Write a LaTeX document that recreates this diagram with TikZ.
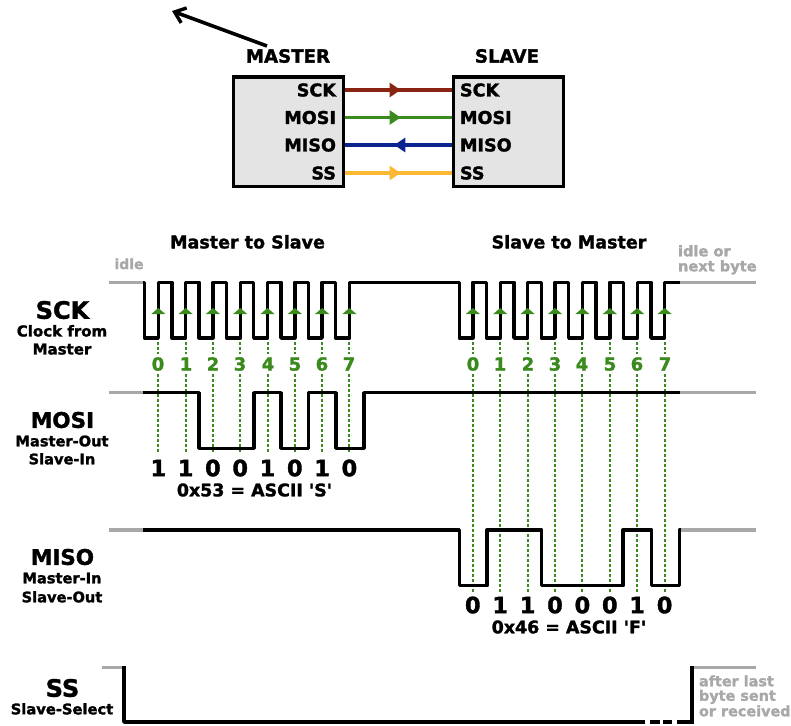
\documentclass[tikz,border=0pt]{standalone}
\usepackage{fontspec}
\newfontfamily\fatfont{DejaVu Sans Bold}[FakeBold=1.6]
\usetikzlibrary{arrows.meta,decorations.markings}
\definecolor{sgreen}{HTML}{3A8A1E}
\definecolor{sred}{HTML}{8A2412}
\definecolor{sblue}{HTML}{0C2490}
\definecolor{syellow}{HTML}{FDB933}
\definecolor{sgray}{HTML}{A8A8A8}
\definecolor{sbox}{HTML}{E4E4E4}
\tikzset{
  txt/.style={inner sep=0pt,outer sep=0pt,text height=.729*#1 pt,text depth=0pt,
    font=\fontsize{#1}{#1}\selectfont\fatfont},
  chip/.style={draw=black,fill=sbox,line width=3.6pt,inner sep=0pt,minimum width=110pt,minimum height=109.5pt},
  sig/.style={draw=black,line width=3.4pt,line join=round},
  idleline/.style={draw=sgray,line width=3.4pt},
  dots/.style={draw=sgreen,line width=2pt,dash pattern=on 3pt off 2pt},
  wire/.style={line width=3.4pt,postaction={decorate},decoration={markings,
    mark=at position #1 with {\arrow{Triangle[length=11pt,width=14pt]}}}},
}
\begin{document}
\begin{tikzpicture}[x=1pt,y=-1pt]
\useasboundingbox (0,0) rectangle (791,725);

% top arrow
\coordinate (arrowfrom) at (267,46);
\coordinate (arrowto) at (172,11);
\draw[line width=3.6pt,-{Straight Barb[length=10pt,width=16pt,line width=3.4pt]}] (arrowfrom) -- (arrowto);

% chips
\node[txt=18.2] (mastertitle) at (288,56) {MASTER};
\node[txt=18.2] (slavetitle) at (507,56) {SLAVE};
\node[chip] (master) at (288.5,131.7) {};
\node[chip] (slave) at (508.5,131.7) {};
\foreach \n/\t/\y in {sck/SCK/90,mosi/MOSI/117.5,miso/MISO/145,ss/SS/173}{
  \node[txt=17.6,anchor=east] (m\n) at (336,\y) {\t};
  \node[txt=17.6,anchor=west] (s\n) at (460,\y) {\t};
}
\draw[wire=.52,sred] (master.east |- msck) -- (slave.west |- ssck);
\draw[wire=.52,sgreen] (master.east |- mmosi) -- (slave.west |- smosi);
\draw[wire=.54,sblue] (slave.west |- smiso) -- (master.east |- mmiso);
\draw[wire=.52,syellow] (master.east |- mss) -- (slave.west |- sss);

% headings
\node[txt=17.5] (h1) at (247.5,242) {Master to Slave};
\node[txt=17.5] (h2) at (569,242) {Slave to Master};
\begin{scope}[text=sgray]
\node[txt=14] (idle) at (129,264) {idle};
\node[txt=14.6,anchor=west] (idleor) at (678,251) {idle or};
\node[txt=14.6,anchor=west] (nextbyte) at (678,266) {next byte};
\node[txt=14.4,anchor=west] (after1) at (699,681) {after last};
\node[txt=14.4,anchor=west] (after2) at (699,695.5) {byte sent};
\node[txt=14.4,anchor=west] (after3) at (699,711) {or received};
\end{scope}

% signal names
\node[txt=24] (nsck) at (62.5,310) {SCK};
\node[txt=15] (nsck1) at (62,331) {Clock from};
\node[txt=15] (nsck2) at (62,349) {Master};
\node[txt=21.5] (nmosi) at (62.5,420) {MOSI};
\node[txt=14.6] (nmosi1) at (62,441) {Master-Out};
\node[txt=14.6] (nmosi2) at (62,459) {Slave-In};
\node[txt=21.5] (nmiso) at (62.5,557) {MISO};
\node[txt=14.6] (nmiso1) at (62,578) {Master-In};
\node[txt=14.6] (nmiso2) at (62,597) {Slave-Out};
\node[txt=24] (nss) at (62.5,688) {SS};
\node[txt=14.7] (nss1) at (62,709) {Slave-Select};

% green guide dots and bit indices
\foreach \i in {0,...,7}{
  \pgfmathsetmacro{\xa}{round(158.3+27.3*\i)}
  \pgfmathsetmacro{\xb}{round(472.8+27.4*\i)}
  \node[txt=18,text=sgreen] (ga\i) at (\xa,364) {\i};
  \node[txt=18,text=sgreen] (gb\i) at (\xb,364) {\i};
  \draw[dots] (\xa,342) -- (\xa,354);
  \draw[dots] (\xa,374) -- (\xa,452);
  \draw[dots] (\xb,342) -- (\xb,354);
  \draw[dots] (\xb,374) -- (\xb,592.5);
}

% idle segments
\draw[idleline] (109,282.3) -- (143,282.3);
\draw[idleline] (109,392.7) -- (143,392.7);
\draw[idleline] (109,530) -- (143,530);
\draw[idleline] (102,667.7) -- (124,667.7);
\draw[idleline] (680,282.3) -- (756,282.3);
\draw[idleline] (680,392.7) -- (756,392.7);
\draw[idleline] (680,530) -- (756,530);
\draw[idleline] (692,667.7) -- (756,667.7);

% SCK
\draw[sig] (143,282.3) -- (144.5,282.3) -- (144.5,338)
  \foreach \i in {0,...,6}{ -- ({158.3+27.3*\i},338) -- ({158.3+27.3*\i},282.3) -- ({171.8+27.3*\i},282.3) -- ({171.8+27.3*\i},338) }
  -- (349.4,338) -- (349.4,282.3) -- (459.3,282.3) -- (459.3,338)
  \foreach \i in {0,...,6}{ -- ({472.8+27.4*\i},338) -- ({472.8+27.4*\i},282.3) -- ({486.5+27.4*\i},282.3) -- ({486.5+27.4*\i},338) }
  -- (664.6,338) -- (664.6,282.3) -- (680,282.3);
\foreach \i in {0,...,7}{
  \fill[sgreen] ({158.3+27.3*\i},308) -- +(-7,6) -- +(7,6) -- cycle;
  \fill[sgreen] ({472.8+27.4*\i},308) -- +(-7,6) -- +(7,6) -- cycle;
}

% MOSI
\draw[sig] (143,392.7) -- (199,392.7) -- (199,448.3) -- (254,448.3) -- (254,392.7)
  -- (281,392.7) -- (281,448.3) -- (308.5,448.3) -- (308.5,392.7) -- (336,392.7) -- (336,448.3)
  -- (364,448.3) -- (364,392.7) -- (680,392.7);
% MISO
\draw[sig] (143,530) -- (459.3,530) -- (459.3,585.7) -- (487,585.7) -- (487,530)
  -- (541.7,530) -- (541.7,585.7) -- (623,585.7) -- (623,530) -- (651.7,530) -- (651.7,585.7)
  -- (679.3,585.7) -- (679.3,530) -- (681,530);
% SS
\draw[sig] (124,666.3) -- (124,722) -- (645,722);
\draw[sig,line join=miter] (650,722) -- (660,722) (663,722) -- (672,722) (677,722) -- (692,722) -- (692,666.3);

% data bits
\foreach \i/\b in {0/1,1/1,2/0,3/0,4/1,5/0,6/1,7/0}{
  \node[txt=22.5] (da\i) at ({158.3+27.3*\i},468) {\b};
}
\foreach \i/\b in {0/0,1/1,2/1,3/0,4/0,5/0,6/1,7/0}{
  \node[txt=22.5] (db\i) at ({472.8+27.4*\i},605) {\b};
}
\node[txt=17.4] (asciis) at (254.5,490) {0x53 = ASCII \char39 S\char39};
\node[txt=17.4] (asciif) at (569,627) {0x46 = ASCII \char39 F\char39};
\end{tikzpicture}
\end{document}
